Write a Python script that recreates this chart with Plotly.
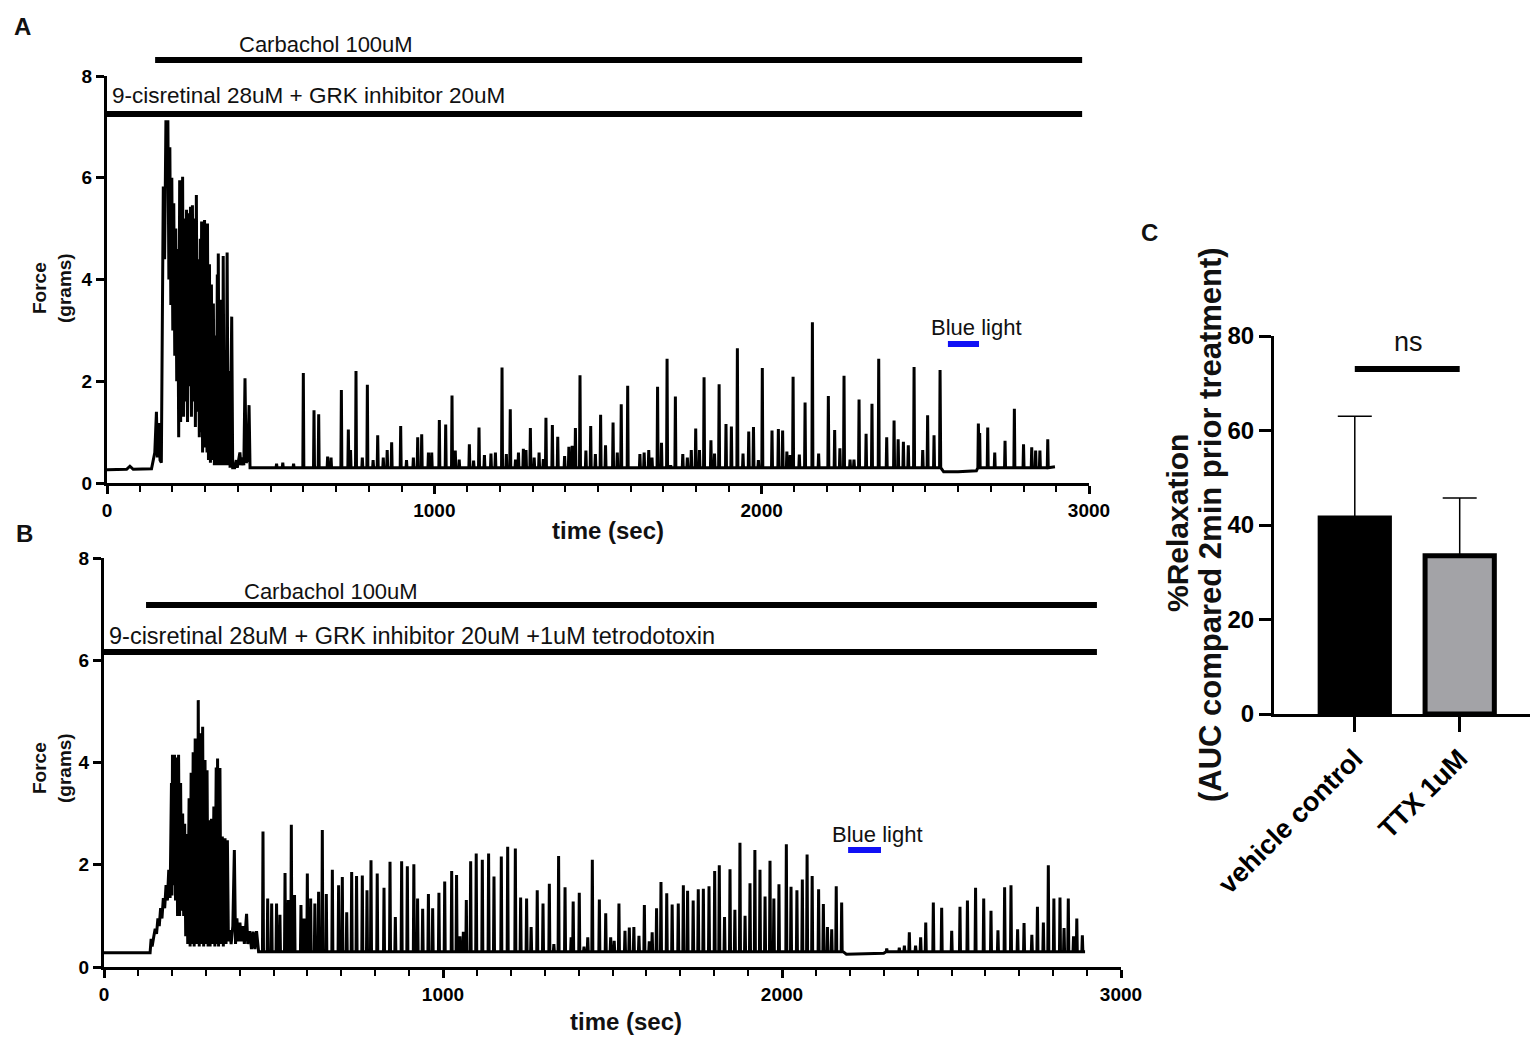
import plotly.graph_objects as go

W, H = 1535, 1038

# ---------------- Panel A data (time in sec, force in grams) ----------------
a_baseline = [(0, 0.26), (60, 0.27), (70, 0.33), (80, 0.27), (136, 0.28), (440, 0.30),
              (2547, 0.30), (2556, 0.22), (2600, 0.22), (2656, 0.24), (2660, 0.30), (2896, 0.32)]
a_burst = [(141, 0.45), (146, 0.6), (151, 1.40), (154, 0.5), (158, 1.18), (162, 0.45), (166, 0.4),
           (172, 5.83), (176, 4.4), (180, 7.13), (183, 5.8), (186, 7.13), (189, 4.0), (192, 6.6),
           (195, 3.5), (198, 6.0), (201, 3.0), (204, 5.5), (207, 2.5), (210, 5.0), (213, 2.0),
           (216, 4.6), (219, 0.9), (222, 5.95), (225, 1.2), (228, 5.4), (229.5, 1.5), (231, 6.02),
           (234, 1.3), (237, 5.2), (240, 1.6), (243, 5.37), (246, 1.2), (249, 5.3), (252, 1.9),
           (255, 5.43), (258, 1.3), (261, 5.46), (264, 1.6), (267, 5.2), (270, 1.1), (273, 5.66),
           (276, 1.4), (279, 4.4), (282, 0.9), (285, 4.8), (287, 1.0), (289, 5.14), (292, 0.6),
           (295, 4.6), (296.5, 0.7), (298, 5.17), (301, 0.8), (304, 4.4), (305.5, 0.6), (307, 5.1),
           (310, 0.45), (313, 4.3), (316, 0.4), (319, 3.9), (322, 0.45), (325, 3.53), (328, 0.35),
           (331, 2.9), (334, 0.35), (337, 4.1), (338.5, 0.4), (340, 4.51), (343, 0.35), (346, 3.6),
           (349, 0.35), (352, 3.2), (353.5, 0.4), (355, 4.46), (358, 0.35), (361, 2.6), (364, 0.35),
           (367, 4.53), (370, 0.35), (373, 2.2), (376, 0.3), (381, 3.27), (384, 0.3), (390, 0.3),
           (395, 0.45), (398, 0.3), (406, 0.6), (409, 0.35), (414, 0.5), (418, 0.35),
           (421.6, 2.06), (425, 0.4), (430, 0.45), (434, 1.53), (437, 0.3)]
a_spikes = [(518, 0.38), (537, 0.4), (570, 0.38), (599.8, 2.16), (632.4, 1.43), (646.7, 1.35),
            (674, 0.52), (684.5, 0.5), (716, 1.83), (737.3, 1.05), (744, 0.65), (760.7, 2.2),
            (780, 0.5), (795.4, 1.93), (813, 0.45), (827, 0.94), (844, 0.5), (856, 0.65),
            (869.6, 0.8), (897.2, 1.12), (915, 0.45), (936, 0.5), (949.2, 0.9), (961.4, 0.96),
            (982, 0.6), (992, 0.6), (1015.3, 1.24), (1034.7, 1.15), (1054, 1.72), (1064, 0.64),
            (1076, 0.46), (1107, 0.76), (1120, 0.44), (1136.5, 1.09), (1153, 0.55), (1173, 0.58),
            (1186.6, 0.6), (1206.8, 2.27), (1220, 0.57), (1232, 1.45), (1248, 0.46), (1257, 0.6),
            (1272, 0.67), (1280, 0.65), (1293.4, 1.08), (1305, 0.5), (1320, 0.6), (1333, 0.47),
            (1341, 1.28), (1360.6, 1.14), (1377, 0.91), (1398, 0.53), (1411, 0.71), (1421, 0.73),
            (1431, 1.08), (1445, 2.12), (1463, 0.64), (1477.7, 1.12), (1492, 0.57), (1508, 1.34),
            (1523, 0.74), (1546, 1.19), (1559, 0.6), (1571, 1.55), (1590.7, 1.91), (1628, 0.57),
            (1641, 0.6), (1655, 0.65), (1665, 0.5), (1682, 1.89), (1694, 0.79), (1711, 2.44),
            (1722, 0.35), (1736.4, 1.7), (1759, 0.57), (1773, 0.5), (1785, 0.65), (1798.5, 1.07),
            (1810, 0.65), (1824, 2.08), (1845, 0.84), (1856, 0.58), (1870, 1.94), (1891, 1.16),
            (1907.5, 1.11), (1925.8, 2.65), (1943, 0.58), (1960.5, 1.01), (1975, 1.1), (1990, 0.45),
            (2002, 2.26), (2031.6, 1.03), (2051, 1.06), (2064, 1.03), (2077, 0.62), (2087, 0.55),
            (2096, 2.09), (2115, 0.56), (2132.6, 1.58), (2155, 3.16), (2174, 0.58), (2203.7, 1.71),
            (2223, 1.04), (2239, 0.68), (2251.6, 2.11), (2270, 0.46), (2282, 0.46), (2297.5, 1.64),
            (2319, 0.97), (2337, 1.56), (2357.6, 2.44), (2382, 0.9), (2404.5, 1.23), (2417, 0.86),
            (2433, 0.81), (2448, 0.74), (2465.6, 2.28), (2492, 0.65), (2507, 1.33), (2526.6, 0.94),
            (2545, 2.22), (2662, 1.17), (2666, 0.98), (2690.6, 1.09), (2712, 0.6), (2743.5, 0.83),
            (2772, 1.46), (2800, 0.76), (2825, 0.7), (2837, 0.64), (2850, 0.64), (2874, 0.86)]
a_carbachol = (147, 2979)
a_retinal = (0, 2979)
a_bluelight = (2569, 2664)

# ---------------- Panel B data ----------------
b_baseline = [(0, 0.28), (136, 0.28), (456, 0.30), (2180, 0.30), (2190, 0.25), (2300, 0.27),
              (2340, 0.30), (2894, 0.30)]
b_burst = [(139, 0.55), (142, 0.4), (147, 0.6), (151, 0.75), (155, 0.65), (159, 0.95), (163, 0.8),
           (167, 1.15), (171, 0.95), (175, 1.35), (179, 1.15), (183, 1.6), (187, 1.3), (191, 1.9),
           (195, 1.35), (199, 3.6), (200.5, 1.4), (202, 4.15), (205, 1.6), (208, 4.15), (211, 1.3),
           (214, 4.1), (217, 1.0), (220, 4.15), (223, 1.0), (226, 3.6), (229, 1.1), (232, 3.0),
           (235, 1.0), (238, 2.8), (241, 0.6), (244, 2.6), (247, 0.45), (251, 3.3), (254, 0.4),
           (257, 3.8), (260, 0.45), (263, 4.2), (266, 0.4), (269, 4.47), (272, 0.45), (275, 4.47),
           (276.5, 0.5), (278, 5.22), (281, 0.4), (284, 4.57), (287, 0.45), (291, 4.7), (294, 0.4),
           (298, 4.05), (301, 0.45), (304, 3.85), (307, 0.4), (310, 2.87), (313, 0.4), (317, 2.9),
           (320, 0.45), (324, 3.14), (327, 0.4), (331, 3.9), (333, 0.45), (335, 4.08), (338, 0.4),
           (342, 3.89), (345, 0.45), (349, 2.55), (352, 0.4), (357, 2.52), (360, 0.45), (364, 2.48),
           (367, 0.5), (371, 0.72), (375, 0.45), (380, 0.8), (384.5, 2.29), (388, 0.45), (392, 0.95),
           (396, 0.5), (401, 0.87), (405, 0.5), (410, 0.8), (414, 0.45), (420.6, 1.04), (424, 0.45),
           (430, 0.7), (435, 0.35), (440, 0.69), (445, 0.35), (450, 0.7), (455, 0.3)]
b_spikes = [(469, 2.65), (482.8, 1.34), (494.6, 1.24), (509, 1.24), (519, 1.02), (534, 1.84),
            (543.6, 1.31), (552.6, 2.78), (562, 1.41), (581, 1.21), (590, 0.95), (599.8, 1.83),
            (609.6, 1.34), (622, 1.24), (633, 1.47), (644, 2.68), (655.8, 1.43), (673.6, 1.9),
            (692, 1.6), (703, 1.76), (716, 1.07), (730.6, 1.86), (745, 1.78), (762, 1.79),
            (775.8, 1.5), (787.6, 2.09), (806, 1.83), (826, 1.55), (843.7, 2.06), (859.4, 0.98),
            (878, 2.07), (894.8, 1.97), (914, 2.01), (925, 1.34), (940, 1.14), (957, 1.43),
            (969.5, 1.15), (988, 1.45), (1005, 1.67), (1025.6, 1.88), (1040, 1.8), (1050, 0.6),
            (1060, 0.69), (1068.8, 1.31), (1081.6, 2.07), (1098, 2.22), (1116, 2.1), (1134.5, 2.22),
            (1150.4, 1.77), (1172, 2.16), (1190.8, 2.35), (1213.4, 2.32), (1229, 1.36),
            (1246.6, 1.34), (1260, 0.78), (1278, 1.5), (1295, 1.24), (1313.7, 1.63), (1327, 0.45),
            (1341, 2.17), (1360, 1.56), (1378, 0.58), (1384, 1.28), (1402, 1.45), (1416, 0.4),
            (1427, 0.58), (1440.5, 2.1), (1461.2, 1.32), (1480, 1.05), (1494.6, 0.58), (1505, 0.51),
            (1519, 1.24), (1536.8, 0.71), (1549.6, 0.77), (1563, 0.78), (1578, 0.61), (1594, 1.21),
            (1608.5, 0.5), (1617, 0.68), (1630, 1.15), (1643, 1.66), (1660, 1.44), (1676, 1.22),
            (1694, 1.24), (1709, 1.6), (1721.5, 1.49), (1738, 1.3), (1753, 1.52), (1768, 1.53),
            (1784.7, 1.58), (1801.4, 1.88), (1815, 1.99), (1830.5, 0.98), (1846.6, 1.91),
            (1861, 1.12), (1876, 2.43), (1891, 1.0), (1905.6, 1.64), (1920, 2.29), (1935, 1.9),
            (1950, 1.38), (1964.6, 2.08), (1976, 1.34), (1991, 1.62), (2012.8, 2.4), (2026.6, 1.57),
            (2044, 1.5), (2060, 1.71), (2074, 2.2), (2089, 1.78), (2108, 1.52), (2122, 1.23),
            (2134, 0.78), (2146.6, 0.74), (2160, 1.58), (2176, 1.26), (2309, 0.36), (2346, 0.38),
            (2361, 0.42), (2375.6, 0.68), (2394, 0.42), (2409, 0.58), (2424, 0.87), (2446.4, 1.26),
            (2471, 1.16), (2500.6, 0.71), (2525, 1.18), (2547, 1.3), (2571, 1.55), (2595, 1.34),
            (2616.5, 1.1), (2637, 0.72), (2656.7, 1.56), (2675.5, 1.6), (2695, 0.74), (2714, 0.86),
            (2737, 0.63), (2753.5, 1.18), (2771, 0.87), (2785.6, 1.99), (2802, 1.34), (2820, 1.36),
            (2832, 0.76), (2844.5, 1.34), (2860, 0.6), (2869.6, 0.95), (2886, 0.62)]
b_carbachol = (124, 2929)
b_retinal = (0, 2929)
b_bluelight = (2195, 2292)

# ---------------- Panel C data ----------------
c_groups = ["vehicle control", "TTX 1uM"]
c_means = [41.5, 33.5]
c_sem = [21.5, 12.2]
c_colors = ["#000000", "#a3a3a7"]
c_ns_level = 73

x_ticks_trace = [0, 1000, 2000, 3000]
y_ticks_trace = [0, 2, 4, 6, 8]
y_ticks_bar = [0, 20, 40, 60, 80]

SPIKE_HALF = 1.5
FOOT = 0.30


def build_trace(baseline, burst, spikes):
    pts = list(baseline) + list(burst)
    for t, f in spikes:
        pts += [(t - SPIKE_HALF, FOOT), (t, f), (t + SPIKE_HALF, FOOT)]
    pts.sort(key=lambda p: p[0])
    return [p[0] for p in pts], [p[1] for p in pts]


def px(x):
    return x / W


def py(y):
    return 1 - y / H


FONT = "Liberation Sans, Arial, Helvetica, sans-serif"

ax_t, ax_f = build_trace(a_baseline, a_burst, a_spikes)
bx_t, bx_f = build_trace(b_baseline, b_burst, b_spikes)

fig = go.Figure()
fig.add_trace(go.Scatter(x=ax_t, y=ax_f, mode="lines", line=dict(color="black", width=3),
                         xaxis="x", yaxis="y", showlegend=False, hoverinfo="skip"))
fig.add_trace(go.Scatter(x=bx_t, y=bx_f, mode="lines", line=dict(color="black", width=3),
                         xaxis="x2", yaxis="y2", showlegend=False, hoverinfo="skip"))
fig.add_trace(go.Bar(x=[0, 1], y=c_means, width=0.66,
                     marker=dict(color=c_colors, line=dict(color="black", width=5)),
                     error_y=dict(type="data", symmetric=False, array=c_sem, arrayminus=[0, 0],
                                  color="black", thickness=1.5, width=17),
                     xaxis="x3", yaxis="y3", showlegend=False, hoverinfo="skip"))

base_axis = dict(showline=True, linecolor="black", linewidth=3, ticks="outside",
                 tickcolor="black", tickwidth=3, ticklen=8, showgrid=False, zeroline=False,
                 automargin=False,
                 tickfont=dict(family=FONT, size=19, color="black", weight="bold"), fixedrange=True)
minor = dict(ticks="outside", dtick=100, tick0=0, ticklen=6, tickwidth=2, tickcolor="black")

fig.update_layout(
    width=W, height=H, margin=dict(l=0, r=0, t=0, b=0, autoexpand=False),
    paper_bgcolor="white", plot_bgcolor="white",
    xaxis=dict(base_axis, domain=[px(107), px(1089)], range=[0, 3000], tickvals=x_ticks_trace,
               minor=minor, anchor="y"),
    yaxis=dict(base_axis, domain=[py(483), py(76)], range=[0, 8], tickvals=y_ticks_trace, anchor="x"),
    xaxis2=dict(base_axis, domain=[px(104), px(1121)], range=[0, 3000], tickvals=x_ticks_trace,
                minor=minor, anchor="y2"),
    yaxis2=dict(base_axis, domain=[py(967), py(558)], range=[0, 8], tickvals=y_ticks_trace, anchor="x2"),
    xaxis3=dict(base_axis, domain=[px(1274), px(1530)], range=[-0.77, 1.67], tickvals=[0, 1],
                ticktext=c_groups, tickangle=-45, ticklen=15,
                tickfont=dict(family=FONT, size=27, color="black", weight="bold"), anchor="y3"),
    yaxis3=dict(base_axis, domain=[py(714), py(336)], range=[0, 80], tickvals=y_ticks_bar,
                ticklen=12, tickfont=dict(family=FONT, size=24, color="black", weight="bold"),
                anchor="x3"),
)

shapes = []
# treatment bars
for (t0, t1), ypix, xa in [(a_carbachol, 60, "x"), (a_retinal, 114, "x"),
                            (b_carbachol, 605, "x2"), (b_retinal, 652, "x2")]:
    shapes.append(dict(type="line", xref=xa, yref="paper", x0=t0, x1=t1, y0=py(ypix), y1=py(ypix),
                       line=dict(color="black", width=6)))
# blue light
shapes.append(dict(type="line", xref="x", yref="y", x0=a_bluelight[0], x1=a_bluelight[1],
                   y0=2.73, y1=2.73, line=dict(color="#1010f5", width=6)))
shapes.append(dict(type="line", xref="x2", yref="y2", x0=b_bluelight[0], x1=b_bluelight[1],
                   y0=2.29, y1=2.29, line=dict(color="#1010f5", width=6)))
# ns bracket
shapes.append(dict(type="line", xref="x3", yref="y3", x0=0, x1=1, y0=c_ns_level, y1=c_ns_level,
                   line=dict(color="black", width=6)))
fig.update_layout(shapes=shapes)


def ann(text, x, y, size, bold=False, anchor="center", angle=0):
    return dict(text=text, x=px(x), y=py(y), xref="paper", yref="paper", showarrow=False,
                xanchor=anchor, yanchor="middle", textangle=angle,
                font=dict(family=FONT, size=size, color="#111111",
                          weight="bold" if bold else "normal"))


annotations = [
    ann("A", 22, 26, 24, True),
    ann("B", 24, 533, 24, True),
    ann("C", 1149, 233, 24, True),
    ann("Carbachol 100uM", 326, 45, 22),
    ann("9-cisretinal 28uM + GRK inhibitor 20uM", 110, 96, 22.5, anchor="left"),
    ann("Blue light", 976, 327, 22),
    ann("Carbachol 100uM", 331, 591, 22),
    ann("9-cisretinal 28uM + GRK inhibitor 20uM +1uM tetrodotoxin", 107, 636, 23.5, anchor="left"),
    ann("Blue light", 877, 834, 22),
    ann("time (sec)", 608, 530, 24, True),
    ann("time (sec)", 626, 1021, 24, True),
    ann("Force<br>(grams)", 52, 288, 19, True, angle=-90),
    ann("Force<br>(grams)", 52, 768, 19, True, angle=-90),
    ann("%Relaxation", 1177, 523, 30, True, angle=-90),
    ann("(AUC compared 2min prior treatment)", 1210, 525, 31, True, angle=-90),
    ann("ns", 1408, 342, 27),
]
fig.update_layout(annotations=annotations)

fig.write_html("out.html", config={"displayModeBar": False},
               post_script="document.body.style.margin='0';document.body.style.overflow='hidden';")
